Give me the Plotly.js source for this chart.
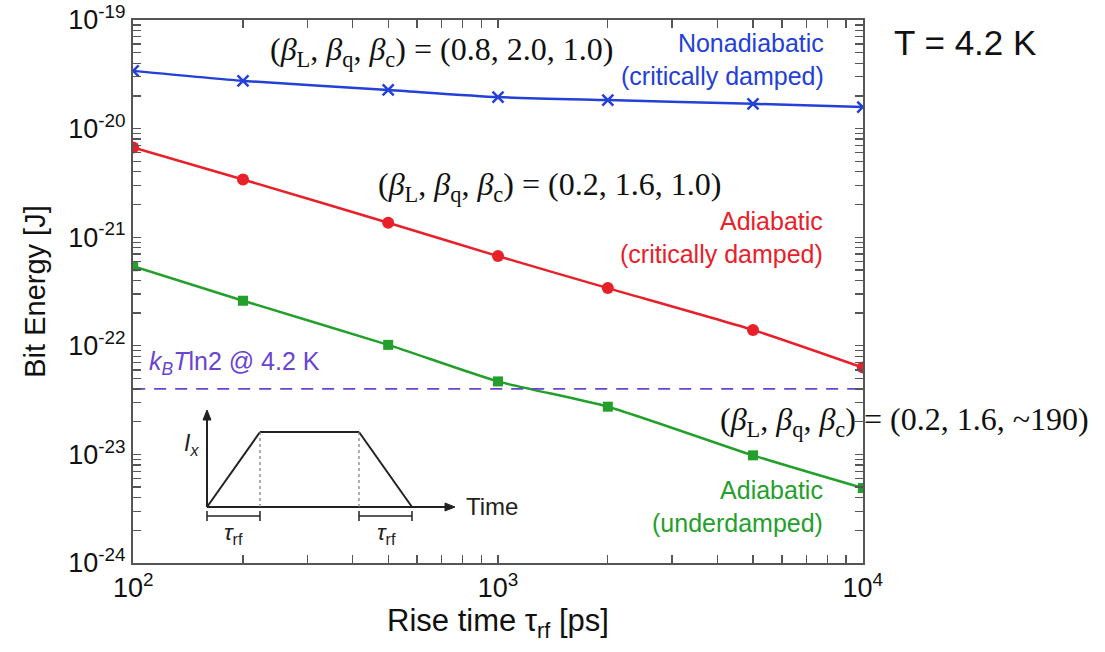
<!DOCTYPE html>
<html><head><meta charset="utf-8">
<script src="https://cdn.plot.ly/plotly-3.0.1.min.js"></script>
<style>body{margin:0;background:#fff}#chart{width:1105px;height:652px}</style>
</head><body><div id="chart"></div>
<script>
// ---- data ----
var riseTime = [100, 200, 500, 1000, 2000, 5000, 10000];
var nonadiabaticCD = [3.4e-20, 2.75e-20, 2.27e-20, 1.95e-20, 1.83e-20, 1.69e-20, 1.58e-20];
var adiabaticCD = [6.7e-21, 3.4e-21, 1.36e-21, 6.7e-22, 3.4e-22, 1.4e-22, 6.3e-23];
var adiabaticUD = [5.4e-22, 2.6e-22, 1.02e-22, 4.7e-23, 2.75e-23, 9.8e-24, 4.9e-24];
var kTln2 = 4.02e-23;
var yDecades = [-24, -23, -22, -21, -20, -19];
var yDecadeLabels = ['10<sup>-24</sup>', '10<sup>-23</sup>', '10<sup>-22</sup>', '10<sup>-21</sup>', '10<sup>-20</sup>', '10<sup>-19</sup>'];
var xDecades = [2, 3, 4];
var xDecadeLabels = ['10<sup>2</sup>', '10<sup>3</sup>', '10<sup>4</sup>'];

// tick positions (decades labelled, 2..9 unlabeled minors)
function logTicks(decs, labels){
  var vals = [], text = [];
  for (var i = 0; i < decs.length; i++){
    vals.push(Math.pow(10, decs[i])); text.push(labels[i]);
    if (i < decs.length - 1){
      for (var m = 2; m <= 9; m++){ vals.push(m * Math.pow(10, decs[i])); text.push(''); }
    }
  }
  return {vals: vals, text: text};
}
var xt = logTicks(xDecades, xDecadeLabels);
var yt = logTicks(yDecades, yDecadeLabels);

// ---- layout geometry ----
var W = 1105, H = 652, ML = 133, MR = 242, MT = 20, MB = 89;
var PW = W - ML - MR, PH = H - MT - MB;
function px(x){ return (x - ML) / PW; }
function py(y){ return (H - MB - y) / PH; }

var blue = '#2340d8', red = '#e8202a', green = '#23a02b', purple = '#6844d0';
var axisCol = '#555555';

var traces = [
  {x: riseTime, y: nonadiabaticCD, mode: 'lines+markers', line: {color: blue, width: 2.5, shape: 'spline', smoothing: 0.6},
   marker: {symbol: 'x-thin-open', size: 11, line: {color: blue, width: 2.5}}, cliponaxis: true},
  {x: riseTime, y: adiabaticCD, mode: 'lines+markers', line: {color: red, width: 2.5, shape: 'spline', smoothing: 0.6},
   marker: {symbol: 'circle', size: 12, color: red}, cliponaxis: true},
  {x: riseTime, y: adiabaticUD, mode: 'lines+markers', line: {color: green, width: 2.5, shape: 'spline', smoothing: 0.6},
   marker: {symbol: 'square', size: 10, color: green}, cliponaxis: true},
  {x: [riseTime[0], riseTime[riseTime.length-1]], y: [kTln2, kTln2], mode: 'lines',
   line: {color: purple, width: 1.8, dash: '12px,9px'}}
];

var sans = 'Liberation Sans, Arial, sans-serif';
var serif = 'Liberation Serif, Times New Roman, serif';
var beta = '(<i>β</i><sub>L</sub>, <i>β</i><sub>q</sub>, <i>β</i><sub>c</sub>) = ';

function ann(text, x, y, opts){
  var a = {text: text, x: px(x), y: py(y), xref: 'paper', yref: 'paper', showarrow: false, yanchor: 'middle'};
  for (var k in opts) a[k] = opts[k];
  return a;
}

var annotations = [
  ann(beta + '(0.8, 2.0, 1.0)', 441, 52, {xanchor: 'center', font: {family: serif, size: 32, color: '#111'}}),
  ann(beta + '(0.2, 1.6, 1.0)', 549, 186, {xanchor: 'center', font: {family: serif, size: 32, color: '#111'}}),
  ann(beta + '(0.2, 1.6, ~190)', 904, 421, {xanchor: 'center', font: {family: serif, size: 32, color: '#111'}}),
  ann('Nonadiabatic<br>(critically damped)', 826, 59, {xanchor: 'right', align: 'right', font: {family: sans, size: 25, color: blue}}),
  ann('Adiabatic<br>(critically damped)', 825, 237, {xanchor: 'right', align: 'right', font: {family: sans, size: 25, color: red}}),
  ann('Adiabatic<br>(underdamped)', 825, 506, {xanchor: 'right', align: 'right', font: {family: sans, size: 25, color: green}}),
  ann('<i>k<sub>B</sub>T</i>ln2 @ 4.2 K', 147, 363, {xanchor: 'left', font: {family: sans, size: 25, color: purple}}),
  ann('T = 4.2 K', 892, 42, {xanchor: 'left', font: {family: sans, size: 35, color: '#111'}}),
  ann('<i>I<sub>x</sub></i>', 191, 444, {xanchor: 'center', font: {family: sans, size: 23, color: '#222'}}),
  ann('Time', 464, 506, {xanchor: 'left', font: {family: sans, size: 24, color: '#222'}}),
  ann('<i>τ</i><sub>rf</sub>', 233, 533, {xanchor: 'center', font: {family: sans, size: 23, color: '#222'}}),
  ann('<i>τ</i><sub>rf</sub>', 386, 533, {xanchor: 'center', font: {family: sans, size: 23, color: '#222'}})
];

function line(x0, y0, x1, y1, extra){
  var s = {type: 'line', xref: 'paper', yref: 'paper', x0: px(x0), y0: py(y0), x1: px(x1), y1: py(y1),
           line: {color: '#222', width: 2}};
  if (extra) for (var k in extra) s.line[k] = extra[k];
  return s;
}
function tri(pts){
  var d = 'M' + pts.map(function(p){ return px(p[0]) + ',' + py(p[1]); }).join(' L') + ' Z';
  return {type: 'path', xref: 'paper', yref: 'paper', path: d, fillcolor: '#222', line: {color: '#222', width: 1}};
}

var shapes = [
  line(207, 507, 207, 418),
  tri([[203, 420], [211, 420], [207, 410]]),
  line(207, 507, 447, 507),
  tri([[445, 503], [445, 511], [455, 507]]),
  line(207, 507, 260, 432),
  line(260, 432, 359, 432),
  line(359, 432, 412, 507),
  line(260, 432, 260, 507, {width: 1.2, dash: 'dot', color: '#777'}),
  line(359, 432, 359, 507, {width: 1.2, dash: 'dot', color: '#777'}),
  line(207, 516, 260, 516, {width: 1.5}),
  line(207, 511, 207, 521, {width: 1.5}),
  line(260, 511, 260, 521, {width: 1.5}),
  line(359, 516, 412, 516, {width: 1.5}),
  line(359, 511, 359, 521, {width: 1.5}),
  line(412, 511, 412, 521, {width: 1.5})
];

var layout = {
  width: W, height: H,
  margin: {l: ML, r: MR, t: MT, b: MB},
  paper_bgcolor: '#fff', plot_bgcolor: '#fff',
  showlegend: false,
  xaxis: {
    type: 'log', range: [1.9995, 4.0005], tickmode: 'array', tickvals: xt.vals, ticktext: xt.text,
    ticks: 'inside', ticklen: 8, tickwidth: 1.3, tickcolor: axisCol,
    showline: true, linecolor: axisCol, linewidth: 2, mirror: 'allticks',
    showgrid: false, zeroline: false,
    tickfont: {family: sans, size: 27, color: '#111'},
    title: {text: 'Rise time τ<sub>rf</sub> [ps]', font: {family: sans, size: 31, color: '#111'}, standoff: 6}
  },
  yaxis: {
    type: 'log', range: [-24, -19], tickmode: 'array', tickvals: yt.vals, ticktext: yt.text,
    ticks: 'inside', ticklen: 8, tickwidth: 1.3, tickcolor: axisCol,
    showline: true, linecolor: axisCol, linewidth: 2, mirror: 'allticks',
    showgrid: false, zeroline: false,
    tickfont: {family: sans, size: 27, color: '#111'},
    title: {text: 'Bit Energy [J]', font: {family: sans, size: 29, color: '#111'}, standoff: 14}
  },
  annotations: annotations,
  shapes: shapes
};

Plotly.newPlot('chart', traces, layout, {displayModeBar: false, staticPlot: true});
</script></body></html>
